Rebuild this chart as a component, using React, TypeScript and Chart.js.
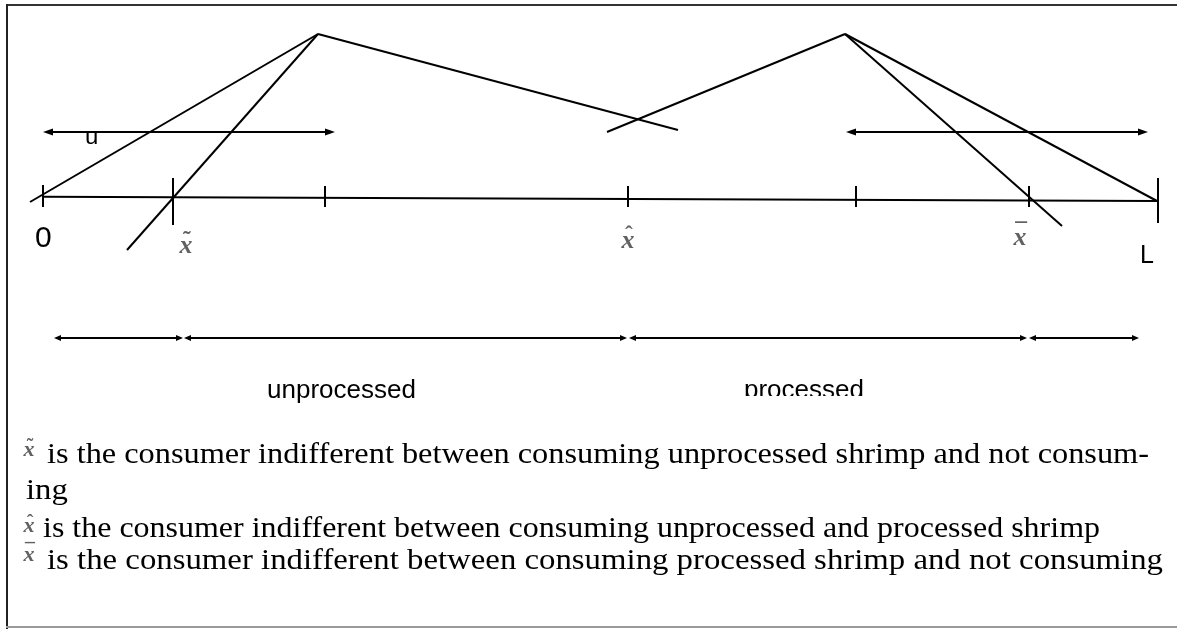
import { useEffect, useRef } from "react";
import { Chart, registerables } from "chart.js";

Chart.register(...registerables);

// ---- Diagram data (values on the chart's x / y scales) ----
const axisLine = [
  { x: 43, y: 196.8 },
  { x: 1157, y: 201 },
];
const tickX = [43, 173, 325, 628, 856, 1029, 1158];
const tickTop = [185, 178, 186, 186, 186, 186, 178];
const tickBottom = [207, 225, 207, 207, 207, 207, 223];

const leftPeak = { x: 318, y: 34 };
const rightPeak = { x: 845, y: 34 };
const lineNoConsumeLeft = [{ x: 30, y: 202 }, leftPeak];
const lineUnprocessedSteep = [{ x: 127, y: 250 }, leftPeak];
const lineUnprocessedDown = [leftPeak, { x: 678, y: 130 }];
const lineProcessedUp = [{ x: 607, y: 132 }, rightPeak];
const lineProcessedSteep = [rightPeak, { x: 1062, y: 226 }];
const lineNoConsumeRight = [rightPeak, { x: 1157, y: 201 }];

// double arrows: [xStart, xEnd, y]
const upperArrows = [
  [43, 335, 132],
  [846, 1148, 132],
];
const lowerArrows = [
  [54, 183, 338],
  [184, 627, 338],
  [629, 1027, 338],
  [1029, 1139, 338],
];

// point labels on the number line
const markLabels = ["\u02DC", "\u02C6", "\u00AF"]; // tilde, hat, bar over x
const markLabelX = [186, 628, 1020];
const markLabelBase = [253, 248, 245];

const legendMarks = ["\u02DC", "\u02C6", "\u00AF"];
const legendLines = [
  "is the consumer indifferent between consuming unprocessed shrimp and not consum-",
  "ing",
  "is the consumer indifferent between consuming unprocessed and processed shrimp",
  "is the consumer indifferent between consuming processed shrimp and not consuming",
];
const legendBase = [463, 499, 537, 569];
const legendX = [47, 26, 43, 47];
const legendEnd = [1149, 0, 1100, 1163];
const legendMarkRow = [0, 2, 3];
const legendMarkBase = [456, 532, 561];

const seg = (pts: { x: number; y: number }[]) => ({
  data: pts,
  showLine: true,
  borderColor: "#000",
  borderWidth: 2,
  pointRadius: 0,
  borderCapStyle: "butt" as const,
});

const diagramPlugin = {
  id: "diagramDecor",
  beforeDraw(chart: any) {
    const { ctx, width, height } = chart;
    ctx.save();
    ctx.fillStyle = "#fff";
    ctx.fillRect(0, 0, width, height);
    ctx.fillStyle = "#333";
    ctx.fillRect(6, 4, width - 6, 2);
    ctx.fillStyle = "#222";
    ctx.fillRect(6, 4, 2, height - 4);
    ctx.fillStyle = "#9a9a9a";
    ctx.fillRect(6, 626, width - 6, 2);
    ctx.restore();
  },
  afterDatasetsDraw(chart: any) {
    const { ctx } = chart;
    const sx = chart.scales.x;
    const sy = chart.scales.y;
    const px = (v: number) => sx.getPixelForValue(v);
    const py = (v: number) => sy.getPixelForValue(v);
    ctx.save();
    ctx.fillStyle = "#000";
    const head = (tipX: number, yv: number, dir: number, len: number, half: number) => {
      const tx = px(tipX);
      const ty = py(yv);
      ctx.beginPath();
      ctx.moveTo(tx, ty);
      ctx.lineTo(tx - dir * len, ty - half);
      ctx.lineTo(tx - dir * len, ty + half);
      ctx.closePath();
      ctx.fill();
    };
    upperArrows.forEach(([a, b, yv]) => {
      head(a, yv, -1, 10, 3.5);
      head(b, yv, 1, 10, 3.5);
    });
    lowerArrows.forEach(([a, b, yv]) => {
      head(a, yv, -1, 7, 3);
      head(b, yv, 1, 7, 3);
    });

    // sans labels
    ctx.fillStyle = "#000";
    ctx.textBaseline = "alphabetic";
    ctx.textAlign = "left";
    ctx.font = '24px "Liberation Sans", Arial, sans-serif';
    ctx.fillText("u", px(85), py(144));
    ctx.font = '30px "Liberation Sans", Arial, sans-serif';
    ctx.fillText("0", px(35), py(247));
    ctx.font = '25px "Liberation Sans", Arial, sans-serif';
    ctx.fillText("L", px(1140), py(263));
    ctx.font = '26px "Liberation Sans", Arial, sans-serif';
    ctx.fillText("unprocessed", px(267), py(398));
    ctx.save();
    ctx.beginPath();
    ctx.rect(px(700), py(360), 220, py(396) - py(360));
    ctx.clip();
    ctx.fillText("processed", px(744), py(398));
    ctx.restore();

    // gray x labels with accents
    const grayX = (cx: number, base: number, accent: string, size: number) => {
      ctx.save();
      ctx.filter = "blur(0.5px)";
      ctx.fillStyle = "#616161";
      ctx.textAlign = "center";
      ctx.font = `italic bold ${size}px "Liberation Serif", serif`;
      ctx.fillText("x", cx, base);
      ctx.font = `bold ${size * 0.9}px "Liberation Serif", serif`;
      ctx.fillText(accent, cx + 1, base - size * 0.22);
      ctx.restore();
    };
    markLabels.forEach((acc, i) => grayX(px(markLabelX[i]), py(markLabelBase[i]), acc, 26));

    // legend text
    ctx.fillStyle = "#000";
    ctx.textAlign = "left";
    const fs = 30;
    ctx.font = `${fs}px "Liberation Serif", "Times New Roman", serif`;
    const w4 = ctx.measureText(legendLines[3]).width;
    const baseStretch = (legendEnd[3] - legendX[3]) / w4;
    legendLines.forEach((t, i) => {
      const w = ctx.measureText(t).width;
      const st = legendEnd[i] > 0 ? (legendEnd[i] - legendX[i]) / w : baseStretch;
      ctx.save();
      ctx.translate(px(legendX[i]), py(legendBase[i]));
      ctx.scale(st, 1);
      ctx.fillText(t, 0, 0);
      ctx.restore();
    });
    legendMarkRow.forEach((row, i) => {
      grayX(px(29), py(legendMarkBase[i]), legendMarks[i], 22);
    });
    ctx.restore();
  },
};

export default function App() {
  const ref = useRef<HTMLCanvasElement>(null);
  useEffect(() => {
    if (!ref.current) return;
    const datasets: any[] = [
      seg(axisLine),
      ...tickX.map((tx, i) => seg([{ x: tx, y: tickTop[i] }, { x: tx, y: tickBottom[i] }])),
      seg(lineNoConsumeLeft),
      seg(lineUnprocessedSteep),
      seg(lineUnprocessedDown),
      seg(lineProcessedUp),
      seg(lineProcessedSteep),
      seg(lineNoConsumeRight),
      ...upperArrows.map(([a, b, yv]) => seg([{ x: a + 6, y: yv }, { x: b - 6, y: yv }])),
      ...lowerArrows.map(([a, b, yv]) => seg([{ x: a + 4, y: yv }, { x: b - 4, y: yv }])),
    ];
    const chart = new Chart(ref.current, {
      type: "scatter",
      data: { datasets },
      options: {
        animation: false,
        responsive: false,
        devicePixelRatio: 1,
        layout: { padding: 0 },
        plugins: { legend: { display: false }, tooltip: { enabled: false } },
        scales: {
          x: { type: "linear", min: 0, max: 1177, display: false },
          y: { type: "linear", min: 0, max: 629, reverse: true, display: false },
        },
      },
      plugins: [diagramPlugin],
    });
    return () => chart.destroy();
  }, []);
  return (
    <div style={{ position: "fixed", left: 0, top: 0, width: 1177, height: 629, background: "#fff" }}>
      <canvas ref={ref} width={1177} height={629} style={{ width: 1177, height: 629, display: "block" }} />
    </div>
  );
}
